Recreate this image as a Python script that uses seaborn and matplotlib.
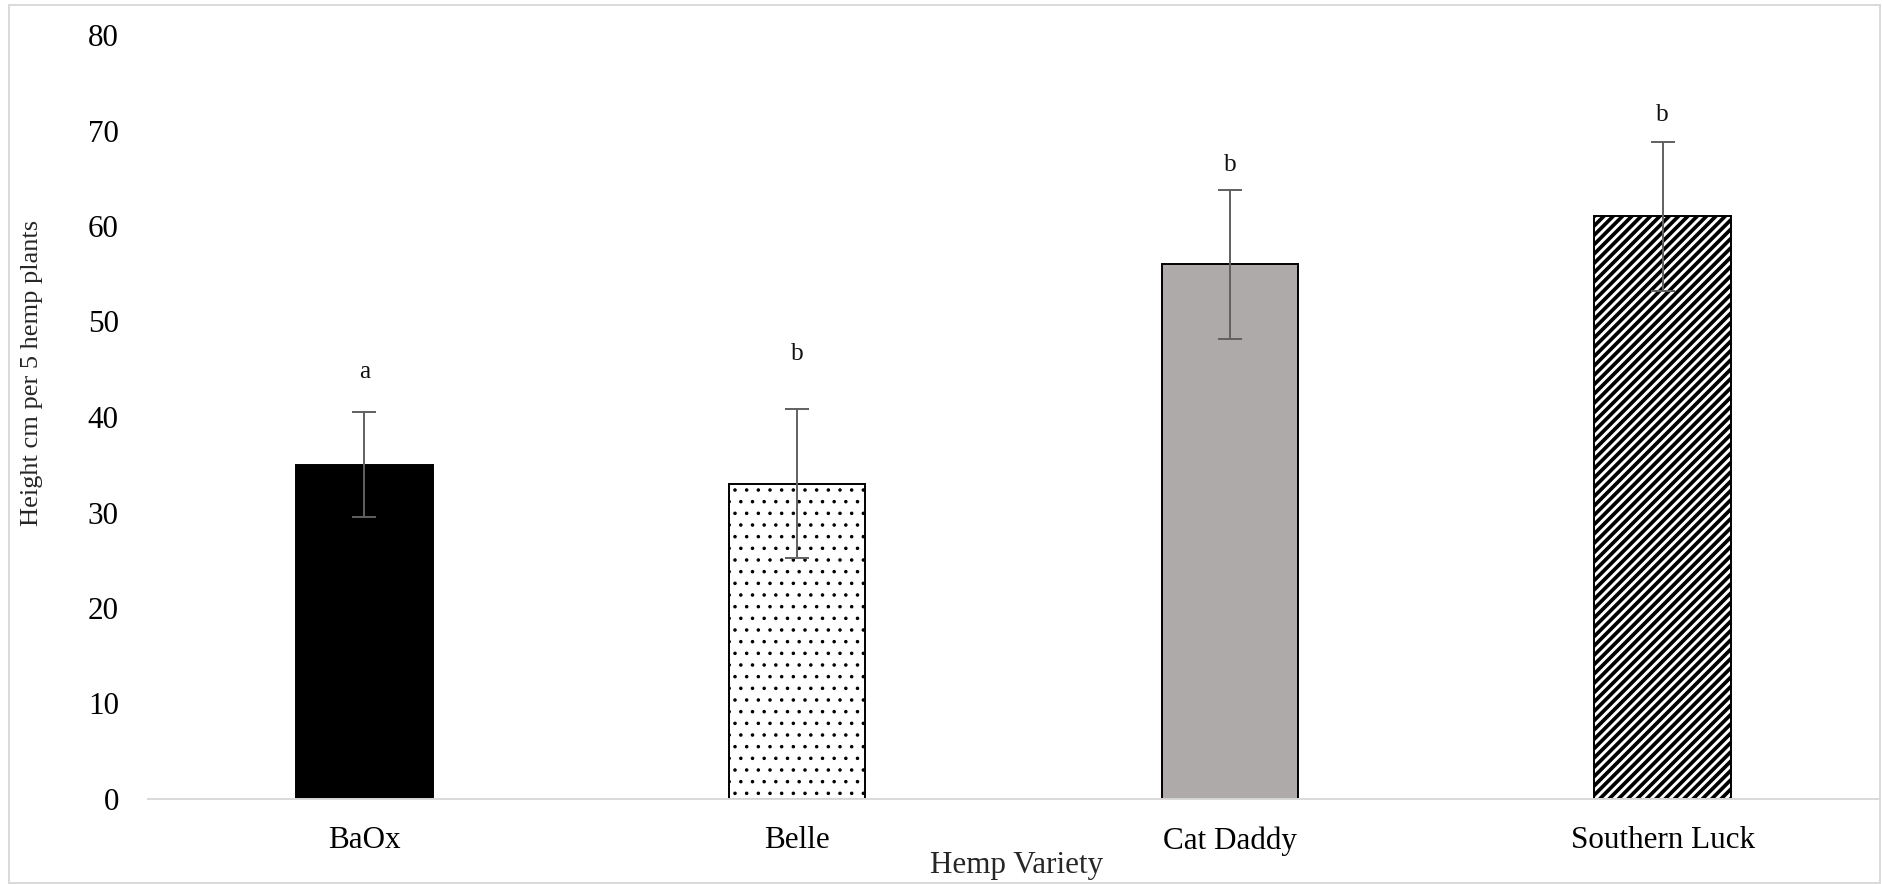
import matplotlib
matplotlib.use("Agg")
import matplotlib.pyplot as plt
from matplotlib.patches import Rectangle
import seaborn as sns
import pandas as pd

# ---- data ----
varieties = ["BaOx", "Belle", "Cat Daddy", "Southern Luck"]
heights = [35.0, 33.0, 56.0, 61.0]
errors = [5.5, 7.8, 7.8, 7.8]
letters = ["a", "b", "b", "b"]
letter_y = [44.7, 46.6, 66.4, 71.6]
y_ticks = [0, 10, 20, 30, 40, 50, 60, 70, 80]

# ---- style ----
sns.set_theme(style="white")
plt.rcParams["font.family"] = ["Liberation Serif", "DejaVu Serif"]
plt.rcParams["hatch.linewidth"] = 1.5
plt.rcParams["hatch.color"] = "black"

fill_colors = ["#000000", "#FFFFFF", "#AEAAAA", "#FFFFFF"]
hatches = ["", "..", "", "/////"]
hatch_lw = [1.0, 0.6, 1.0, 1.9]

DPI = 140
fig = plt.figure(figsize=(1882 / DPI, 884 / DPI), dpi=DPI)
ax = fig.add_axes([148 / 1882, 85 / 884, (1879 - 148) / 1882, 764 / 884])

df = pd.DataFrame({"Variety": varieties, "Height": heights})
sns.barplot(data=df, x="Variety", y="Height", hue="Variety",
            palette=dict(zip(varieties, fill_colors)), width=0.316,
            edgecolor="black", linewidth=1.0, errorbar=None,
            legend=False, ax=ax, saturation=1)

for patch, h, lw in zip(ax.patches, hatches, hatch_lw):
    if h:
        patch.set_hatch(h)
        if hasattr(patch, "set_hatch_linewidth"):
            patch.set_hatch_linewidth(lw)

xpos = list(range(len(varieties)))
ax.errorbar(xpos, heights, yerr=errors, fmt="none", ecolor="#606060",
            elinewidth=1.0, capsize=6, capthick=1.0, zorder=5)

for xi, lab, ly in zip(xpos, letters, letter_y):
    ax.text(xi, ly, lab, ha="center", va="center", fontsize=13, color="#111111")

ax.set_xlim(-0.5, len(varieties) - 0.5)
ax.set_ylim(0, 80)
ax.set_yticks(y_ticks)
ax.set_yticklabels([str(t) for t in y_ticks])

for s in ["top", "right", "left"]:
    ax.spines[s].set_visible(False)
ax.spines["bottom"].set_color("#D9D9D9")
ax.spines["bottom"].set_linewidth(1.0)

ax.tick_params(axis="both", length=0, labelsize=16, colors="black")
ax.tick_params(axis="x", pad=14)
ax.tick_params(axis="y", pad=15)

ax.set_xlabel("Hemp Variety", fontsize=16, va="center")
ax.xaxis.set_label_coords(0.502, -0.0864)
ax.set_ylabel("Height cm per 5 hemp plants", fontsize=13.6, va="center")
ax.yaxis.set_label_coords(-0.067, 0.5576)

ax.grid(False)

# chart area border
fig.patches.append(Rectangle((8.5 / 1882, 1.5 / 884), (1880 - 8.5) / 1882, (879 - 1.5) / 884,
                             transform=fig.transFigure, fill=False,
                             edgecolor="#D9D9D9", linewidth=1.0, zorder=0))

fig.savefig("out.png", dpi=DPI)
